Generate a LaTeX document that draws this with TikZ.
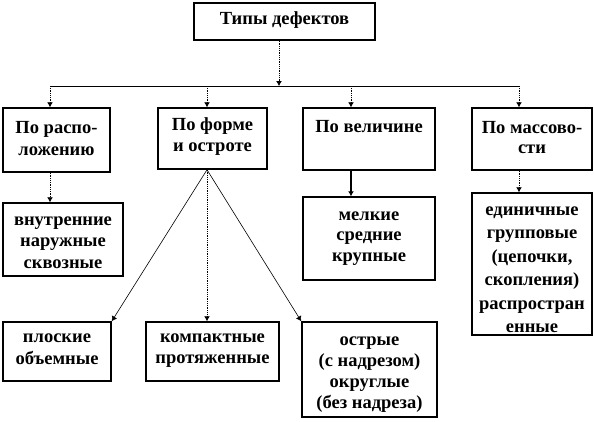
\documentclass[tikz,border=0pt]{standalone}
\usepackage{fontspec}
\setmainfont{Liberation Serif}
\usetikzlibrary{arrows.meta}
\begin{document}
\begin{tikzpicture}[x=1pt,y=-1pt,
  box/.style={draw, line width=1.5pt, inner sep=0pt},
  txt/.style={inner sep=0pt, align=center,
    font=\fontsize{18.5}{#1}\selectfont\bfseries},
  txt/.default=21.5,
  dotconn/.style={line width=0.9pt, dash pattern=on 1pt off 0.8pt},
  solconn/.style={line width=0.6pt},
  arr/.style={-{Latex[length=5pt,width=6pt]}}]
\useasboundingbox (0,0) rectangle (594,421);
% boxes
\node[box, minimum width=181pt, minimum height=37pt] (top) at (284.5,21.5) {};
\node[box, minimum width=107pt, minimum height=64pt] (b1) at (56.5,140) {};
\node[box, minimum width=109pt, minimum height=61pt] (b2) at (212.5,138.5) {};
\node[box, minimum width=132pt, minimum height=62pt] (b3) at (369,139) {};
\node[box, minimum width=120pt, minimum height=62pt] (b4) at (532,139) {};
\node[box, minimum width=120pt, minimum height=73pt] (c1) at (63,239.5) {};
\node[box, minimum width=132pt, minimum height=83pt] (c3) at (369,238.5) {};
\node[box, minimum width=120pt, minimum height=142pt] (c4) at (532,264) {};
\node[box, minimum width=108pt, minimum height=59pt] (d1) at (57,351.5) {};
\node[box, minimum width=133pt, minimum height=59pt] (d2) at (212.5,351.5) {};
\node[box, minimum width=135pt, minimum height=95pt] (d3) at (369.5,369.5) {};
% texts
\node[txt] (ttop) at (284.5,20.5) {Типы дефектов};
\node[txt=22] (tb1) at (56.5,138.5) {По распо-\\ложению};
\node[txt=21] (tb2) at (212.5,137) {По форме\\и остроте};
\node[txt] (tb3) at (369,127) {По величине};
\node[txt=20.5] (tb4) at (532,137.5) {По массово-\\сти};
\node[txt=21.5] (tc1) at (63,242.5) {внутренние\\наружные\\сквозные};
\node[txt=20.5] (tc3) at (369,238.5) {мелкие\\средние\\крупные};
\node[txt=23.5] (tc4) at (532,269.5) {единичные\\групповые\\(цепочки,\\скопления)\\распростран\\енные};
\node[txt=22] (td1) at (57,349.5) {плоские\\объемные};
\node[txt=21] (td2) at (212.5,351) {компактные\\протяженные};
\node[txt=21] (td3) at (369.5,375) {острые\\(с надрезом)\\округлые\\(без надреза)};
% connectors
\coordinate (hl) at (0,86);
\coordinate (x0) at (279,0);
\coordinate (x1) at (50,0);
\coordinate (x2) at (207,0);
\coordinate (x3) at (351,0);
\coordinate (x4) at (519,0);
\coordinate (hs) at (x1 |- hl);
\coordinate (he) at (x4 |- hl);
\draw[solconn] (hs) -- (he);
\draw[dotconn,arr] (x0 |- top.south) -- (x0 |- hl);
\draw[dotconn,arr] (hs) -- (x1 |- b1.north);
\draw[dotconn,arr] (x2 |- hl) -- (x2 |- b2.north);
\draw[dotconn,arr] (x3 |- hl) -- (x3 |- b3.north);
\draw[dotconn,arr] (he) -- (x4 |- b4.north);
\draw[dotconn,arr] (x1 |- b1.south) -- (x1 |- c1.north);
\draw[line width=1.2pt,arr] (x3 |- b3.south) -- (x3 |- c3.north);
\draw[dotconn,arr] (x4 |- b4.south) -- (x4 |- c4.north);
\coordinate (src) at (x2 |- b2.south);
\draw[solconn,arr] (src) -- (d1.north east);
\draw[dotconn,arr] (src) -- (x2 |- d2.north);
\draw[solconn,arr] (src) -- (d3.north west);
\end{tikzpicture}
\end{document}
